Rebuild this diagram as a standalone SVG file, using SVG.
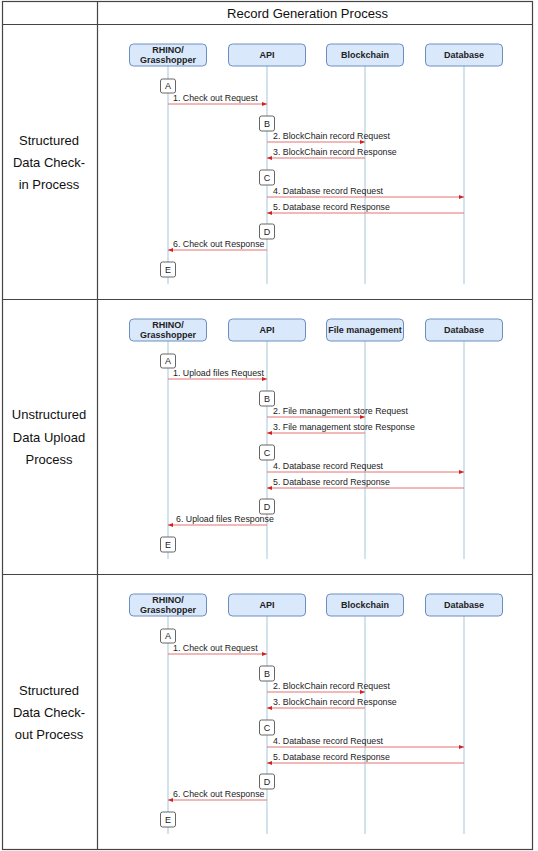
<svg xmlns="http://www.w3.org/2000/svg" width="538" height="851" viewBox="0 0 538 851">
<style>
.bg{fill:#ffffff}
.tbl{fill:none;stroke:#444;stroke-width:1.2}
.hdr{font-family:"Liberation Sans",Arial,sans-serif;font-size:13px;fill:#111}
.lbl{font-family:"Liberation Sans",Arial,sans-serif;font-size:13px;fill:#111;text-anchor:middle}
.part rect{fill:#dae8fc;stroke:#6c8ebf;stroke-width:1}
.part text{font-family:"Liberation Sans",Arial,sans-serif;font-size:9px;font-weight:bold;fill:#222;text-anchor:middle}
.life{stroke:#a7c7d8;stroke-width:1}
.st rect{fill:#ffffff;stroke:#555;stroke-width:0.9}
.st text{font-family:"Liberation Sans",Arial,sans-serif;font-size:9px;fill:#222;text-anchor:middle}
.msg{stroke:#e57373;stroke-width:1;fill:none;marker-end:url(#ah)}
.mt{font-family:"Liberation Sans",Arial,sans-serif;font-size:8.8px;fill:#222}
</style>
<defs>
<marker id="ah" viewBox="0 0 10 10" refX="10" refY="5" markerWidth="5" markerHeight="5" markerUnits="userSpaceOnUse" orient="auto">
<path d="M0,1 L10,5 L0,9 z" fill="#d42020"/>
</marker>
</defs>
<rect class="bg" x="0" y="0" width="538" height="851"/>
<g id="table">
<rect class="tbl" x="2.5" y="1.5" width="530" height="848"/>
<line class="tbl" x1="97.5" y1="1.5" x2="97.5" y2="849.5"/>
<line class="tbl" x1="2.5" y1="24.5" x2="532.5" y2="24.5"/>
<line class="tbl" x1="2.5" y1="299.5" x2="532.5" y2="299.5"/>
<line class="tbl" x1="2.5" y1="574.5" x2="532.5" y2="574.5"/>
<text class="hdr" x="227" y="18" textLength="161" lengthAdjust="spacingAndGlyphs">Record Generation Process</text>
<text class="lbl" x="49" y="145">Structured</text>
<text class="lbl" x="49" y="167">Data Check-</text>
<text class="lbl" x="49" y="189">in Process</text>
<text class="lbl" x="49" y="419">Unstructured</text>
<text class="lbl" x="49" y="442">Data Upload</text>
<text class="lbl" x="49" y="464">Process</text>
<text class="lbl" x="49" y="695">Structured</text>
<text class="lbl" x="49" y="717">Data Check-</text>
<text class="lbl" x="49" y="739">out Process</text>
</g>

<!-- Section 1 -->
<g id="s1">
<g id="s1-lifelines">
<line class="life" x1="168" y1="66" x2="168" y2="284"/>
<line class="life" x1="267" y1="66" x2="267" y2="284"/>
<line class="life" x1="365" y1="66" x2="365" y2="284"/>
<line class="life" x1="464" y1="66" x2="464" y2="284"/>
</g>
<g id="s1-rhino" class="part"><rect x="129.5" y="44" width="77" height="22" rx="4"/><text x="168" y="53">RHINO/</text><text x="168" y="63">Grasshopper</text></g>
<g id="s1-api" class="part"><rect x="228.5" y="44" width="77" height="22" rx="4"/><text x="267" y="58">API</text></g>
<g id="s1-blockchain" class="part"><rect x="326.5" y="44" width="77" height="22" rx="4"/><text x="365" y="58">Blockchain</text></g>
<g id="s1-database" class="part"><rect x="425.5" y="44" width="77" height="22" rx="4"/><text x="464" y="58">Database</text></g>
<g id="s1-A" class="st"><rect x="160.5" y="79" width="15" height="14" rx="2"/><text x="168" y="89.2">A</text></g>
<g id="s1-B" class="st"><rect x="259.5" y="116" width="15" height="15" rx="2"/><text x="267" y="126.8">B</text></g>
<g id="s1-C" class="st"><rect x="259.5" y="170" width="15" height="15" rx="2"/><text x="267" y="180.8">C</text></g>
<g id="s1-D" class="st"><rect x="259.5" y="224" width="15" height="15" rx="2"/><text x="267" y="234.8">D</text></g>
<g id="s1-E" class="st"><rect x="160.5" y="262" width="15" height="15" rx="2"/><text x="168" y="272.8">E</text></g>
<g id="s1-connectors">
<line class="msg" x1="168" y1="104" x2="267" y2="104"/>
<text class="mt" x="173" y="101">1. Check out Request</text>
<line class="msg" x1="267" y1="142" x2="365" y2="142"/>
<text class="mt" x="273" y="139">2. BlockChain record Request</text>
<line class="msg" x1="365" y1="158" x2="267" y2="158"/>
<text class="mt" x="273" y="155">3. BlockChain record Response</text>
<line class="msg" x1="267" y1="197" x2="464" y2="197"/>
<text class="mt" x="273" y="194">4. Database record Request</text>
<line class="msg" x1="464" y1="213" x2="267" y2="213"/>
<text class="mt" x="273" y="210">5. Database record Response</text>
<line class="msg" x1="267" y1="250" x2="168" y2="250"/>
<text class="mt" x="173" y="247">6. Check out Response</text>
</g>
</g>

<!-- Section 2 -->
<g id="s2" transform="translate(0,275)">
<g id="s2-lifelines">
<line class="life" x1="168" y1="66" x2="168" y2="284"/>
<line class="life" x1="267" y1="66" x2="267" y2="284"/>
<line class="life" x1="365" y1="66" x2="365" y2="284"/>
<line class="life" x1="464" y1="66" x2="464" y2="284"/>
</g>
<g id="s2-rhino" class="part"><rect x="129.5" y="44" width="77" height="22" rx="4"/><text x="168" y="53">RHINO/</text><text x="168" y="63">Grasshopper</text></g>
<g id="s2-api" class="part"><rect x="228.5" y="44" width="77" height="22" rx="4"/><text x="267" y="58">API</text></g>
<g id="s2-filemgmt" class="part"><rect x="326.5" y="44" width="77" height="22" rx="4"/><text x="365" y="58">File management</text></g>
<g id="s2-database" class="part"><rect x="425.5" y="44" width="77" height="22" rx="4"/><text x="464" y="58">Database</text></g>
<g id="s2-A" class="st"><rect x="160.5" y="79" width="15" height="14" rx="2"/><text x="168" y="89.2">A</text></g>
<g id="s2-B" class="st"><rect x="259.5" y="116" width="15" height="15" rx="2"/><text x="267" y="126.8">B</text></g>
<g id="s2-C" class="st"><rect x="259.5" y="170" width="15" height="15" rx="2"/><text x="267" y="180.8">C</text></g>
<g id="s2-D" class="st"><rect x="259.5" y="224" width="15" height="15" rx="2"/><text x="267" y="234.8">D</text></g>
<g id="s2-E" class="st"><rect x="160.5" y="262" width="15" height="15" rx="2"/><text x="168" y="272.8">E</text></g>
<g id="s2-connectors">
<line class="msg" x1="168" y1="104" x2="267" y2="104"/>
<text class="mt" x="173" y="101">1. Upload files Request</text>
<line class="msg" x1="267" y1="142" x2="365" y2="142"/>
<text class="mt" x="273" y="139">2. File management store Request</text>
<line class="msg" x1="365" y1="158" x2="267" y2="158"/>
<text class="mt" x="273" y="155">3. File management store Response</text>
<line class="msg" x1="267" y1="197" x2="464" y2="197"/>
<text class="mt" x="273" y="194">4. Database record Request</text>
<line class="msg" x1="464" y1="213" x2="267" y2="213"/>
<text class="mt" x="273" y="210">5. Database record Response</text>
<line class="msg" x1="267" y1="250" x2="168" y2="250"/>
<text class="mt" x="176" y="247">6. Upload files Response</text>
</g>
</g>

<!-- Section 3 -->
<g id="s3" transform="translate(0,550)">
<g id="s3-lifelines">
<line class="life" x1="168" y1="66" x2="168" y2="284"/>
<line class="life" x1="267" y1="66" x2="267" y2="284"/>
<line class="life" x1="365" y1="66" x2="365" y2="284"/>
<line class="life" x1="464" y1="66" x2="464" y2="284"/>
</g>
<g id="s3-rhino" class="part"><rect x="129.5" y="44" width="77" height="22" rx="4"/><text x="168" y="53">RHINO/</text><text x="168" y="63">Grasshopper</text></g>
<g id="s3-api" class="part"><rect x="228.5" y="44" width="77" height="22" rx="4"/><text x="267" y="58">API</text></g>
<g id="s3-blockchain" class="part"><rect x="326.5" y="44" width="77" height="22" rx="4"/><text x="365" y="58">Blockchain</text></g>
<g id="s3-database" class="part"><rect x="425.5" y="44" width="77" height="22" rx="4"/><text x="464" y="58">Database</text></g>
<g id="s3-A" class="st"><rect x="160.5" y="79" width="15" height="14" rx="2"/><text x="168" y="89.2">A</text></g>
<g id="s3-B" class="st"><rect x="259.5" y="116" width="15" height="15" rx="2"/><text x="267" y="126.8">B</text></g>
<g id="s3-C" class="st"><rect x="259.5" y="170" width="15" height="15" rx="2"/><text x="267" y="180.8">C</text></g>
<g id="s3-D" class="st"><rect x="259.5" y="224" width="15" height="15" rx="2"/><text x="267" y="234.8">D</text></g>
<g id="s3-E" class="st"><rect x="160.5" y="262" width="15" height="15" rx="2"/><text x="168" y="272.8">E</text></g>
<g id="s3-connectors">
<line class="msg" x1="168" y1="104" x2="267" y2="104"/>
<text class="mt" x="173" y="101">1. Check out Request</text>
<line class="msg" x1="267" y1="142" x2="365" y2="142"/>
<text class="mt" x="273" y="139">2. BlockChain record Request</text>
<line class="msg" x1="365" y1="158" x2="267" y2="158"/>
<text class="mt" x="273" y="155">3. BlockChain record Response</text>
<line class="msg" x1="267" y1="197" x2="464" y2="197"/>
<text class="mt" x="273" y="194">4. Database record Request</text>
<line class="msg" x1="464" y1="213" x2="267" y2="213"/>
<text class="mt" x="273" y="210">5. Database record Response</text>
<line class="msg" x1="267" y1="250" x2="168" y2="250"/>
<text class="mt" x="173" y="247">6. Check out Response</text>
</g>
</g>
</svg>
